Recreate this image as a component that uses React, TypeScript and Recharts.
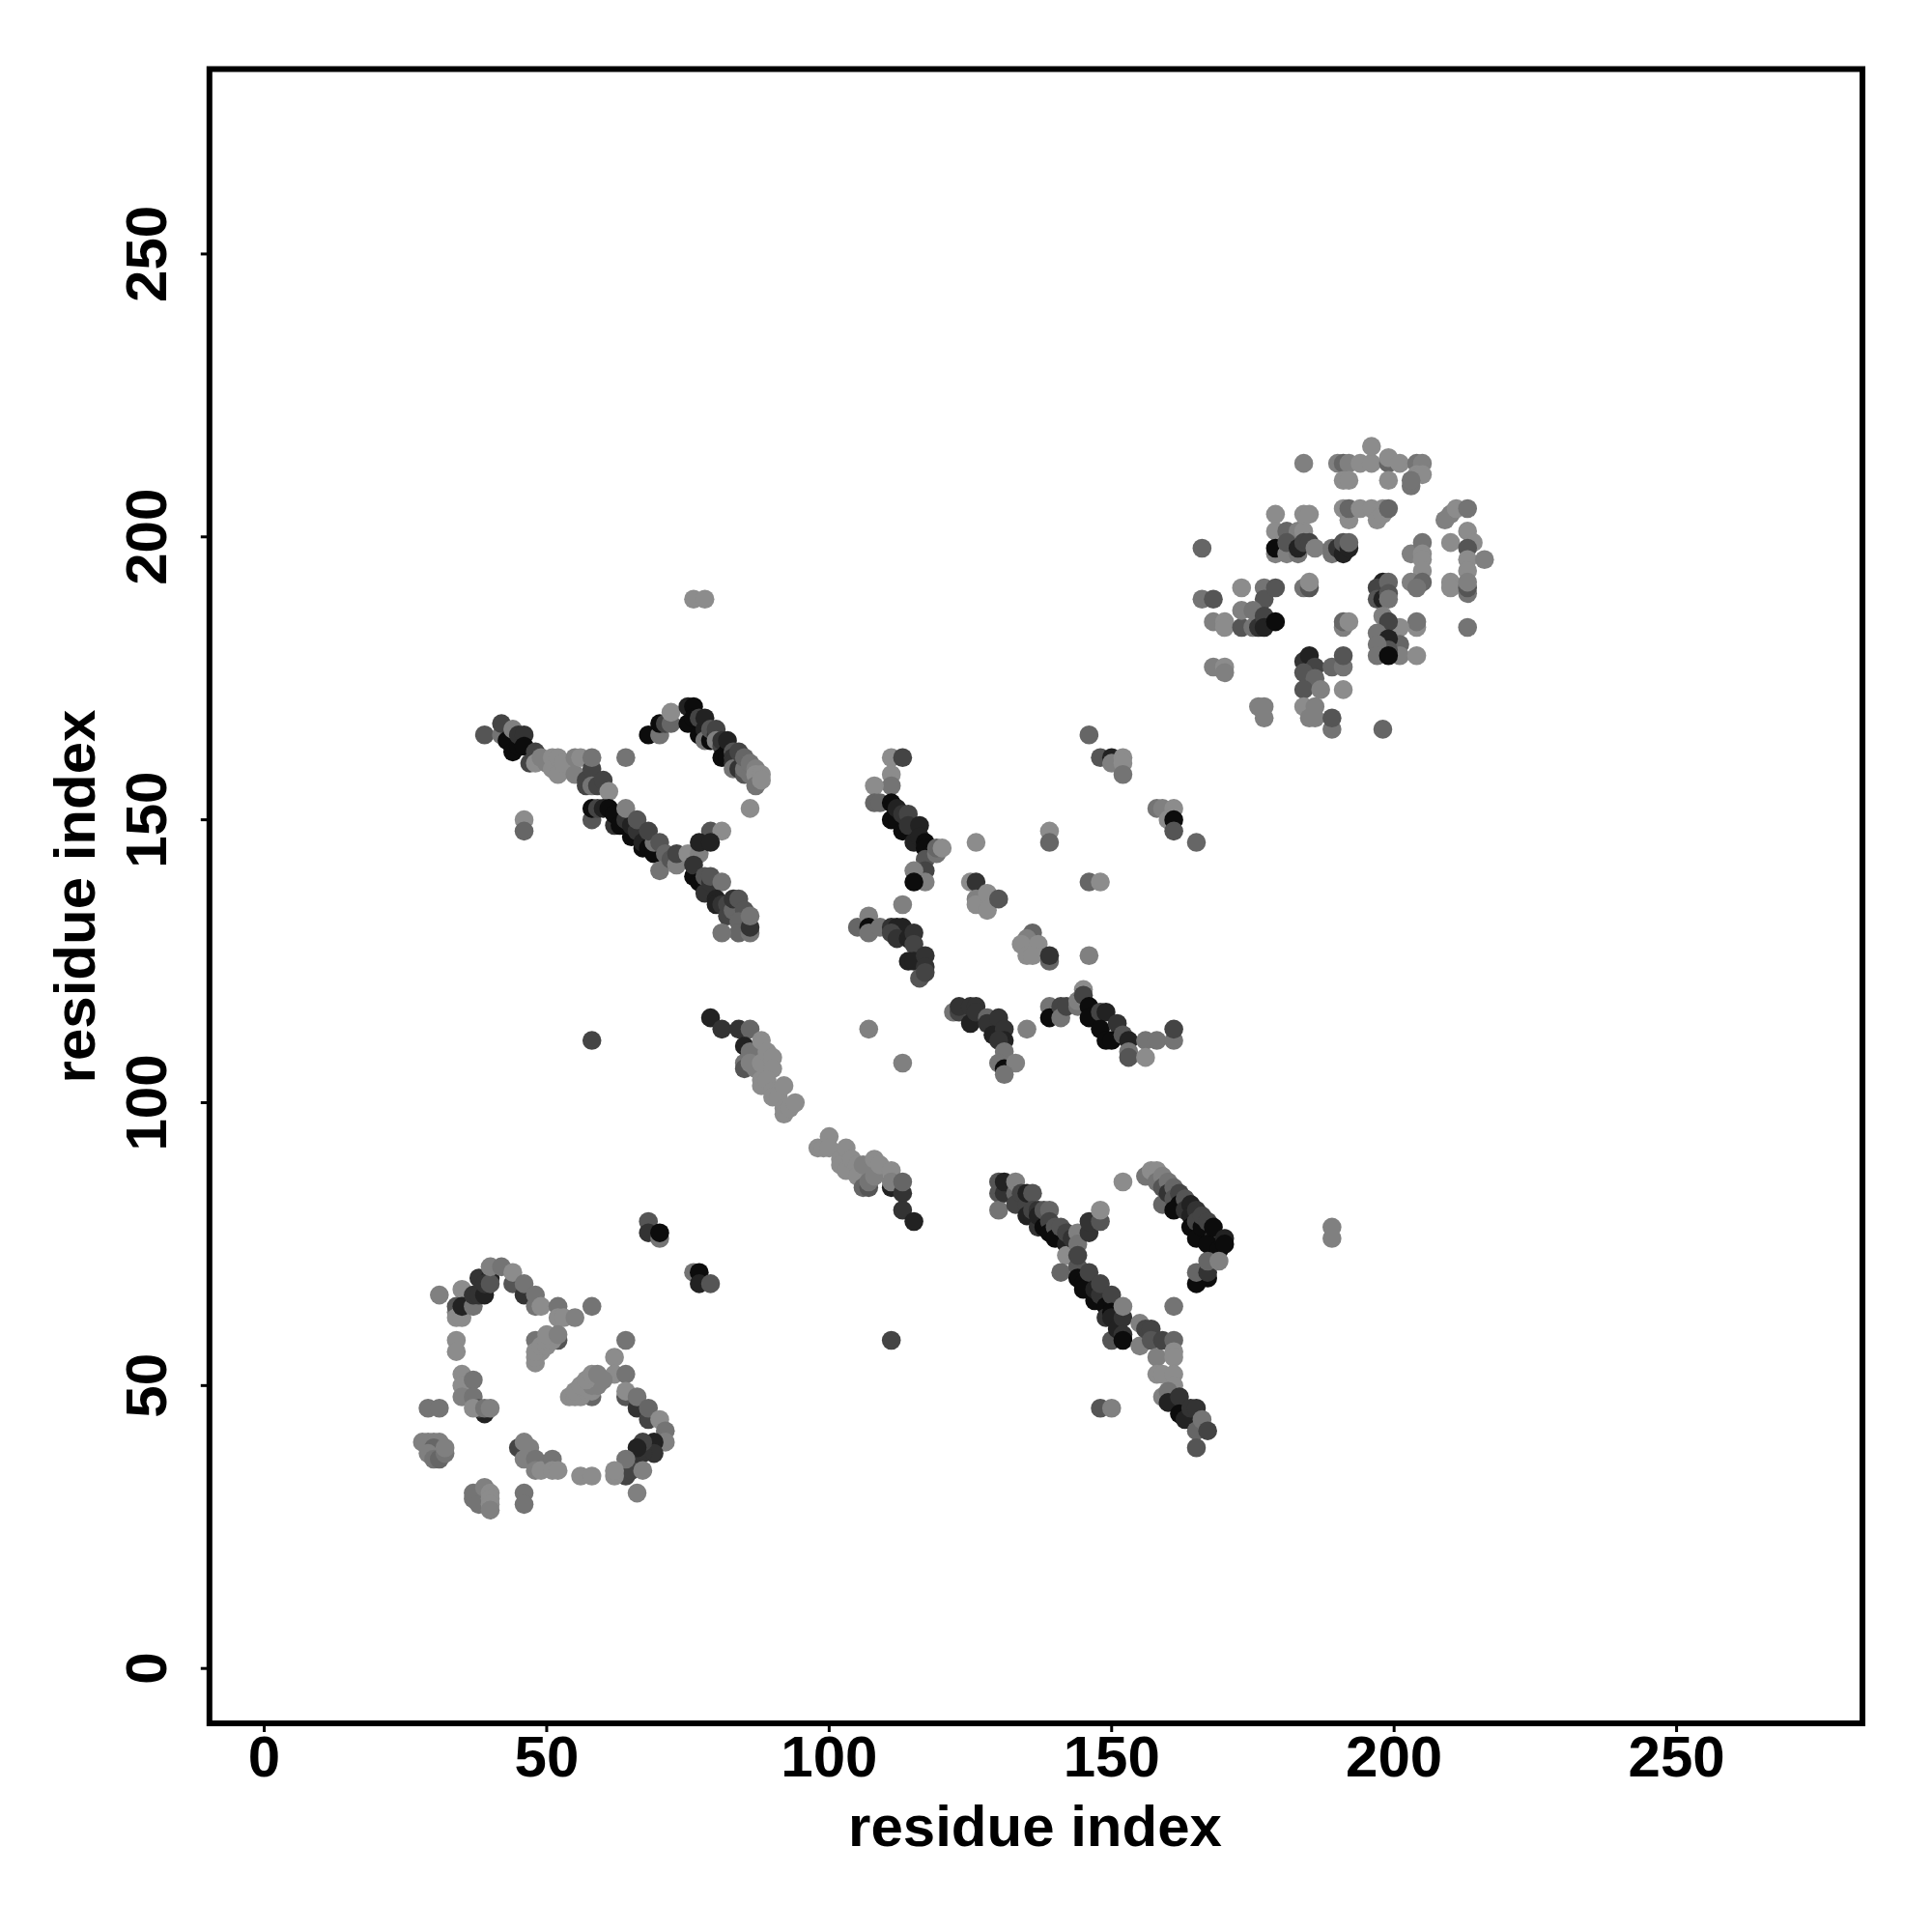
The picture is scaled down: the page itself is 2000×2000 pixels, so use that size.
import React from "react";
import { ScatterChart, Scatter, XAxis, YAxis, ReferenceArea } from "recharts";

// each contact: [residue i, residue j, contact level 1 (weak) .. 9 (strong)]
type Contact = [number, number, number];

const axisTicks = [0, 50, 100, 150, 200, 250];
const axisTitle = "residue index";
const xDomain: [number, number] = [-9.7, 282.9];
const yDomain: [number, number] = [-9.7, 282.7];

const levelGray = ["#8c8c8c", "#808080", "#747474", "#666666", "#555555", "#444444", "#333333", "#222222", "#0c0c0c"];

const isolated: Contact[] = [
  [58,111,6],[111,58,6],[76,189,1],[78,189,1],[189,78,2],[189,76,2],[46,150,1],[46,148,4],[148,46,5],[150,46,2],
  [107,113,2],[113,107,2],[64,161,3],[161,64,3],[86,152,1],[152,86,1],[126,146,1],[146,126,2],[113,135,2],[135,113,2],
  [139,148,1],[139,146,4],[146,139,4],[148,139,1],[165,146,4],[146,165,4],
];

const nearPairs: Contact[] = [
  [68,79,5],[68,77,7],[70,76,3],[70,77,9],[76,70,3],[77,70,9],[77,68,8],[79,68,5],
];

const lowerLeft: Contact[] = [
  [31,66,2],[35,67,1],[34,63,2],[34,64,5],[34,62,1],[35,62,1],[35,64,8],[37,64,3],[37,66,7],[38,66,7],[39,66,8],
  [38,69,7],[40,69,8],[39,68,7],[40,68,5],[40,71,2],[42,71,3],[44,68,5],[44,70,1],[46,66,7],[46,68,3],[48,64,3],[48,66,3],[49,64,1],
  [52,64,3],[52,62,1],[53,62,1],[55,62,2],[58,64,3],
  [48,58,3],[52,58,5],[48,54,1],[48,55,1],[49,56,1],[48,56,1],[49,57,1],[50,57,1],[50,58,1],[51,58,1],[50,59,1],[52,59,2],
  [64,58,3],[62,55,1],[62,52,1],[64,52,3],[64,48,5],[64,49,1],[66,46,7],[66,48,3],[68,44,6],[68,46,4],[70,44,1],[71,42,3],[71,40,2],
  [69,40,8],[69,38,7],[67,38,7],[67,40,6],[66,37,7],[66,39,8],[64,35,8],[64,34,6],[65,35,6],[64,37,3],[62,34,1],[62,35,1],[67,35,2],[66,31,2],
  [34,58,1],[34,56,1],[35,52,1],[35,50,1],[35,48,2],[37,51,3],[37,48,3],[39,45,8],[38,46,5],[37,46,1],[39,46,3],[40,46,2],
  [29,46,3],[31,46,3],
  [28,40,2],[29,40,2],[30,40,2],[31,40,2],[30,39,4],[29,38,2],[30,37,3],[31,37,4],[32,38,3],[32,39,2],
  [45,39,6],[46,40,2],[47,39,2],[46,37,2],[48,37,3],[48,35,2],[49,35,1],[51,37,3],[51,35,1],[52,35,1],[56,34,1],[58,34,1],
  [37,30,3],[37,31,3],[38,29,3],[39,32,2],[40,31,1],[40,30,1],[40,29,1],[40,28,2],[46,31,3],[46,29,3],
  [58,48,4],[54,48,1],[55,48,1],[56,48,1],[55,49,1],[57,49,1],[58,49,1],[56,50,1],[58,50,2],[59,50,2],[57,51,1],[60,51,2],[58,52,1],[59,52,2],
];

const upperBetaLeft: Contact[] = [
  [39,165,5],[42,165,3],[42,167,6],[43,164,9],[44,162,9],[44,166,2],[45,163,9],[45,165,7],[46,165,7],[46,163,9],[47,160,6],[48,162,6],[48,160,1],[49,161,2],
  [50,160,2],[51,161,1],[51,159,1],[52,158,1],[52,161,1],[53,160,1],[55,158,2],[55,161,2],[56,161,1],[57,156,6],[57,157,6],[58,159,6],[58,161,3],[58,156,3],
  [59,156,6],[60,157,6],[61,155,1],[58,150,5],[58,152,9],[59,152,6],[60,152,8],[61,152,9],[62,149,7],[62,151,9],[63,149,9],[64,150,7],[65,147,9],[65,149,8],[64,152,2],
  [66,148,7],[66,150,5],[67,145,9],[67,146,8],[68,145,9],[69,144,9],[69,146,3],[68,148,6],[70,146,5],[71,144,4],[70,141,3],[72,143,5],[73,142,2],[73,144,6],[75,144,1],
  [77,144,2],[79,148,5],[81,148,1],[77,146,8],[79,146,8],[76,140,9],[76,142,7],[77,139,9],[78,138,9],[78,137,7],[78,140,5],[79,139,7],[79,140,5],[81,139,3],[80,136,8],[80,135,8],[81,135,7],
  [82,135,6],[82,133,6],[83,134,4],[83,136,7],[84,136,5],[85,134,5],[84,132,4],[84,130,4],[86,130,3],[86,131,7],[86,133,3],[81,130,3],
  [68,165,9],[70,165,3],[70,167,9],[71,167,6],[72,167,4],[72,169,1],[75,167,9],[75,170,8],[76,170,9],[76,168,9],[77,165,9],[77,168,6],[78,166,8],[78,168,8],[78,164,3],[79,164,9],[79,166,5],
  [80,165,7],[80,166,6],[80,164,2],[81,163,6],[81,164,7],[81,161,9],[82,162,9],[82,164,8],[82,161,9],[83,162,5],[83,161,7],[83,160,7],[83,159,3],[84,159,7],[84,162,6],[85,158,5],[85,159,3],[85,161,4],[86,158,3],[86,160,3],[87,159,2],[87,158,1],[87,156,3],[88,158,1],[88,157,1],
];

const lowerBetaRight: Contact[] = [
  [130,84,5],[130,81,3],[130,86,5],[131,84,7],[131,86,8],[133,84,4],[133,82,6],[133,86,2],[134,84,6],[135,82,6],[135,80,8],[135,84,8],[136,84,5],[136,80,8],[136,81,6],[137,78,7],[137,81,7],[137,80,8],
  [138,78,9],[138,81,5],[139,81,4],[139,79,6],[139,77,9],[140,78,5],[140,76,9],[141,78,5],[142,75,8],[142,77,6],[142,73,1],[143,76,7],[144,77,2],[144,75,3],[146,77,7],[146,79,7],[148,79,5],[148,81,1],
  [141,70,4],[144,71,5],[144,73,6],[144,69,9],[145,68,9],[145,67,9],[146,70,6],[147,65,9],[147,67,8],[148,66,7],[148,68,6],[149,64,9],[149,62,7],[150,66,6],[150,63,9],[150,62,8],[150,58,5],[151,60,8],[152,62,7],[152,64,2],
  [152,59,7],[152,58,9],[155,61,2],[155,57,2],[156,60,6],[157,60,6],[157,58,5],[158,55,2],[159,58,6],[161,58,4],[161,56,1],[161,55,1],[158,52,1],[159,52,1],[161,52,1],[161,50,1],
  [159,48,2],[160,49,3],[160,47,8],[162,48,7],[162,45,9],[163,44,8],[164,46,7],[165,46,7],[165,42,4],[166,44,3],[167,42,6],[165,39,5],
  [156,87,3],[157,88,1],[158,88,1],[158,86,3],[159,87,2],[159,85,5],[160,86,3],[159,82,4],[160,84,7],[161,85,4],[161,83,5],[162,84,6],[162,82,9],[161,81,9],[163,83,5],[163,81,7],[164,82,8],[164,80,8],[164,78,9],[165,81,7],[165,79,6],[165,76,9],[166,78,9],[166,80,6],[167,79,6],[168,76,7],[167,75,9],
  [168,78,9],[170,76,8],[169,74,9],[170,75,9],[167,69,9],[165,68,9],[165,70,4],[167,70,7],[167,72,4],[169,72,2],
];

const centralStrand: Contact[] = [
  [79,115,8],[81,113,7],[84,113,7],[86,113,4],[85,110,8],[85,107,3],[85,106,5],[86,109,3],[88,111,1],[86,107,2],[87,106,2],[88,107,1],[89,109,1],[90,108,1],[90,106,1],
  [88,104,1],[88,103,1],[89,104,1],[90,102,1],[90,101,1],[91,101,1],[92,103,1],[92,99,1],[92,98,1],[93,99,1],[94,100,1],
  [98,92,1],[99,92,1],[100,94,1],[100,92,1],[102,90,1],[102,89,1],[103,92,1],[103,88,1],[104,90,1],[105,89,1],[105,87,1],[106,89,2],[106,85,4],[107,85,5],[107,86,3],[108,90,1],[108,87,2],
  [109,89,1],[111,85,8],[111,88,1],[111,86,2],[113,84,7],[113,86,4],[113,81,7],[115,79,8],
];

const helixPairs: Contact[] = [
  [111,161,1],[113,161,6],[111,158,1],[111,156,3],[108,156,1],[108,153,4],[109,153,4],[111,153,9],[111,150,9],[112,150,9],[112,152,8],[113,148,9],[113,151,7],[114,151,6],[114,149,7],
  [116,149,8],[115,146,8],[116,147,8],[117,146,9],[117,145,9],[117,143,5],[119,144,3],[119,145,4],[120,145,1],[117,141,6],[117,139,2],[115,141,2],[115,139,9],
  [125,139,1],[126,139,7],[126,136,2],[126,135,1],[128,137,1],[128,134,1],[130,136,5],
  [136,130,4],[135,129,2],[134,128,1],[137,128,1],[135,126,1],[136,126,1],[139,125,4],[139,126,7],
  [105,131,4],[107,133,2],[107,131,9],[107,130,3],[109,131,3],[111,131,7],[112,131,8],[113,131,8],[111,130,6],[112,129,7],[114,129,8],[115,130,7],[115,128,6],
  [114,125,8],[115,125,8],[117,126,7],[117,124,7],[116,122,5],[117,123,6],
  [122,116,3],[123,116,6],[123,117,7],[125,117,7],[126,117,7],[125,114,8],[126,116,7],[128,115,4],[128,114,7],[130,115,7],[129,112,8],[131,113,7],[131,111,8],[130,111,7],
  [131,109,3],[130,107,3],[131,106,9],[133,107,2],[131,105,3],
  [139,117,3],[139,115,9],[141,117,6],[141,115,3],[142,117,6],[144,117,3],[144,118,2],[145,120,1],[145,119,6],[146,117,9],[146,115,9],[148,116,6],[149,116,8],[148,113,9],
  [149,111,9],[151,114,7],[150,111,9],[152,112,5],[153,111,8],[153,109,3],[153,108,5],[156,111,3],[156,108,1],[158,111,3],[161,111,3],[161,113,6],
  [148,161,5],[150,161,8],[150,160,2],[152,161,1],[152,160,1],[152,158,3],[158,152,3],[159,152,2],[161,152,1],[160,150,1],[161,150,9],[161,148,5],
];

const upperRight: Contact[] = [
  [166,198,4],[184,213,2],[190,213,2],[191,213,4],[192,213,2],[194,213,1],[196,213,1],[196,216,1],[199,213,4],[199,214,1],[199,210,1],[191,210,1],[192,210,1],[201,213,1],
  [204,213,3],[205,213,2],[204,211,1],[205,211,1],[203,209,3],[203,210,3],
  [191,205,1],[192,203,1],[192,205,4],[194,205,1],[196,205,1],[197,203,1],[198,205,1],[198,204,1],[199,205,4],
  [179,204,1],[179,201,1],[181,201,4],[183,201,2],[184,201,1],[184,204,1],[185,204,1],
  [179,197,2],[179,198,9],[181,197,2],[181,199,5],[183,197,3],[183,198,8],[184,199,6],[185,199,6],[186,198,2],
  [189,197,3],[189,198,3],[190,198,7],[191,197,8],[191,199,5],[192,198,8],[192,199,4],
  [203,197,2],[205,199,3],[205,197,1],[205,196,1],[205,194,1],[203,192,2],[205,192,4],[204,191,3],
  [210,199,1],[210,192,1],[210,191,1],[209,203,2],[210,204,2],[211,205,1],[213,205,3],[213,201,1],[214,199,1],[213,198,5],[213,196,1],[216,196,2],[213,194,1],[213,190,3],[213,191,5],[213,192,2],
  [184,191,3],[185,191,5],[185,192,1],[198,192,8],[197,191,6],[199,192,4],[197,189,5],[198,189,8],[199,190,5],[199,189,3],
  [166,189,3],[168,189,5],[173,191,1],[177,191,3],[177,189,5],[179,191,5],
  [168,185,2],[170,185,1],[170,184,1],[173,184,5],[173,187,2],[175,184,3],[175,187,3],[176,184,7],[177,186,6],[177,184,8],[179,185,9],
  [191,184,2],[191,185,4],[192,185,1],[204,184,1],[204,185,3],[201,184,1],[201,181,4],[201,179,2],[204,179,1],
  [198,186,2],[199,185,6],[197,183,3],[199,182,8],[199,180,5],[197,181,3],[197,179,3],[199,179,9],
  [213,184,3],
  [184,178,7],[185,179,8],[186,177,6],[184,176,5],[186,175,4],[184,173,5],[187,173,2],[189,177,4],[191,177,3],[191,179,5],[191,173,1],
  [184,170,1],[186,170,2],[185,168,2],[186,168,2],[189,166,3],[189,168,5],[198,166,4],
  [168,177,2],[170,177,1],[170,176,2],[176,170,2],[177,170,2],[177,168,2],
];

const contacts: Contact[] = [...nearPairs, ...isolated, ...lowerLeft, ...upperBetaLeft, ...lowerBetaRight, ...centralStrand, ...helixPairs, ...upperRight];
const rows = contacts.map(([i, j, level]) => ({ i, j, level }));

const FONT = '"Liberation Sans", Arial, Helvetica, sans-serif';

const XTick = (p: any) => (
  <text x={p.x} y={1839} textAnchor="middle" fontFamily={FONT} fontWeight={700} fontSize={60} fill="#000">{p.payload.value}</text>
);
const YTick = (p: any) => (
  <text transform={`translate(172,${p.y}) rotate(-90)`} textAnchor="middle" fontFamily={FONT} fontWeight={700} fontSize={60} fill="#000">{p.payload.value}</text>
);
const XTitle = () => (
  <text x={1071.5} y={1911} textAnchor="middle" fontFamily={FONT} fontWeight={700} fontSize={60} fill="#000">{axisTitle}</text>
);
const YTitle = () => (
  <text transform="translate(98,928) rotate(-90)" textAnchor="middle" fontFamily={FONT} fontWeight={700} fontSize={60} fill="#000">{axisTitle}</text>
);
const Dot = (p: any) => <circle cx={p.cx} cy={p.cy} r={9.8} fill={levelGray[p.payload.level - 1]} />;

export default function App() {
  return (
    <div style={{ position: "absolute", left: 0, top: 0, width: 2000, height: 2000, background: "#fff" }}>
      <ScatterChart width={2000} height={2000} margin={{ top: 71.4, right: 72, bottom: 0, left: 0 }}>
        <XAxis
          type="number" dataKey="i" domain={xDomain} ticks={axisTicks} allowDataOverflow interval={0}
          height={216} axisLine={false} tickSize={9} tickLine={{ stroke: "#000", strokeWidth: 3 }}
          tick={<XTick />} label={<XTitle />}
        />
        <YAxis
          type="number" dataKey="j" domain={yDomain} ticks={axisTicks} allowDataOverflow interval={0}
          width={216.8} axisLine={false} tickSize={9} tickLine={{ stroke: "#000", strokeWidth: 3 }}
          tick={<YTick />} label={<YTitle />}
        />
        <Scatter data={rows} isAnimationActive={false} shape={<Dot />} />
        <ReferenceArea x1={xDomain[0]} x2={xDomain[1]} y1={yDomain[0]} y2={yDomain[1]} fill="none" stroke="#000" strokeWidth={6} fillOpacity={0} ifOverflow="visible" />
      </ScatterChart>
    </div>
  );
}
